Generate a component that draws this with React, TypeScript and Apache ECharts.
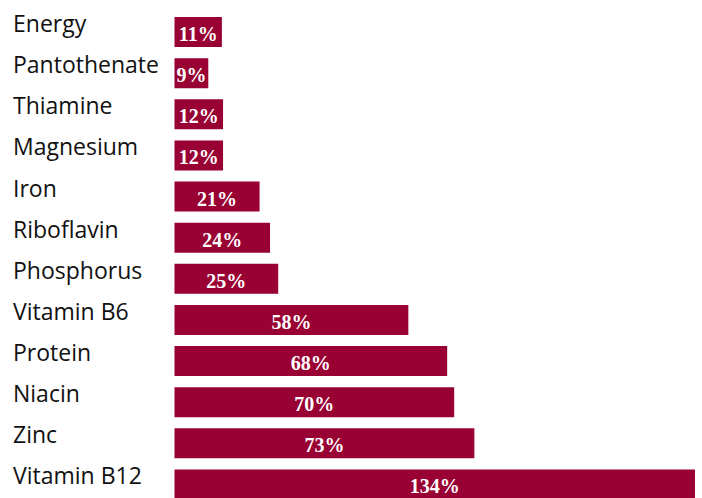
import React, { useEffect, useRef } from "react";
import * as echarts from "echarts";

const categories = [
  "Energy",
  "Pantothenate",
  "Thiamine",
  "Magnesium",
  "Iron",
  "Riboflavin",
  "Phosphorus",
  "Vitamin B6",
  "Protein",
  "Niacin",
  "Zinc",
  "Vitamin B12",
];

// printed percentage labels
const pctLabels = [11, 9, 12, 12, 21, 24, 25, 58, 68, 70, 73, 134];

// bar lengths as drawn (in % units)
const barValues = [12.2, 8.7, 12.5, 12.5, 21.9, 24.6, 26.7, 60.2, 70.2, 72.0, 77.2, 134];

export default function App() {
  const ref = useRef<HTMLDivElement>(null);
  useEffect(() => {
    if (!ref.current) return;
    const chart = echarts.init(ref.current, null, { renderer: "svg" });
    chart.setOption({
      animation: false,
      grid: { left: 174.5, right: 7, top: 11.5, bottom: 0, containLabel: false },
      xAxis: {
        type: "value",
        min: 0,
        max: 134,
        show: false,
      },
      yAxis: {
        type: "category",
        inverse: true,
        data: categories,
        axisLine: { show: false },
        axisTick: { show: false },
        splitLine: { show: false },
        axisLabel: {
          align: "left",
          verticalAlign: "bottom",
          lineHeight: 18,
          margin: 161.5,
          color: "#111111",
          fontFamily: "Open Sans",
          fontSize: 23,
        },
      },
      series: [
        {
          type: "bar",
          data: barValues,
          barCategoryGap: "27%",
          itemStyle: { color: "#990033" },
          label: {
            show: true,
            position: "inside",
            offset: [0, 2],
            color: "#ffffff",
            fontFamily: "Liberation Serif",
            fontWeight: "bold",
            fontSize: 20,
            formatter: (p: any) => pctLabels[p.dataIndex] + "%",
          },
        },
      ],
    });
    return () => chart.dispose();
  }, []);
  return (
    <div
      ref={ref}
      style={{ position: "fixed", left: 0, top: 0, width: 702, height: 505, background: "#fff" }}
    />
  );
}
